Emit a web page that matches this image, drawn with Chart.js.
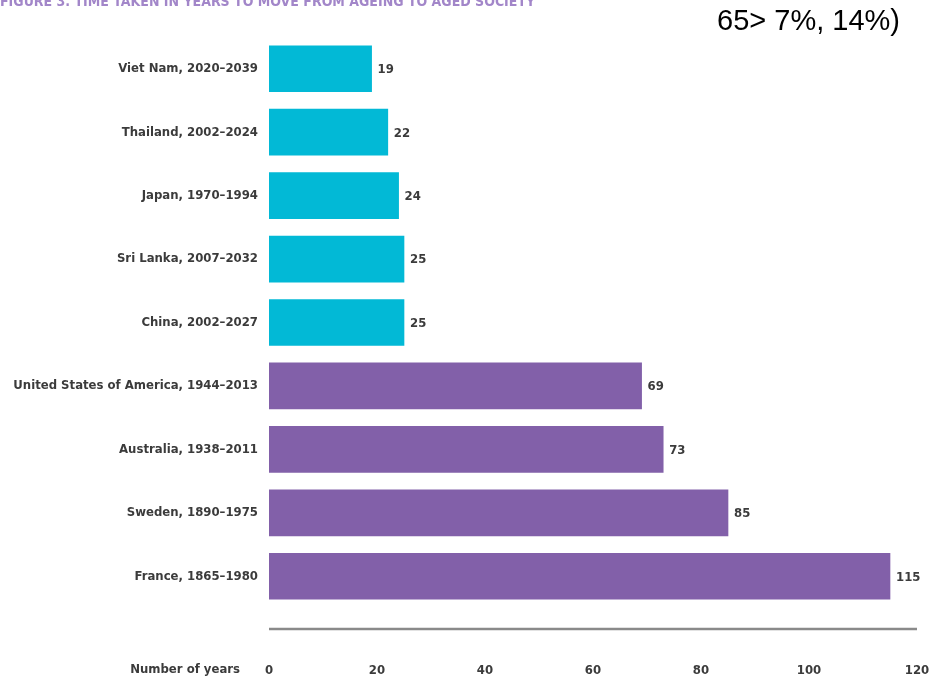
<!DOCTYPE html>
<html>
<head>
<meta charset="utf-8">
<script src="https://cdn.jsdelivr.net/npm/chart.js@4"></script>
<style>
  html, body { margin: 0; padding: 0; background: #fff; overflow: hidden; }
  #wrap { position: relative; width: 931px; height: 679px; }
  #fig { position: absolute; left: 0; top: -7px; font: bold 14px "DejaVu Sans Condensed", sans-serif; color: #a286c9; white-space: nowrap; }
  #note { position: absolute; right: 31px; top: 4px; font: 29px "Liberation Sans", Arial, sans-serif; color: #000; white-space: nowrap; }
</style>
</head>
<body>
<div id="wrap">
  <canvas id="chart" width="931" height="679"></canvas>
  <div id="fig">FIGURE 3. TIME TAKEN IN YEARS TO MOVE FROM AGEING TO AGED SOCIETY</div>
  <div id="note">65&gt; 7%, 14%)</div>
</div>
<script>
const countries = ['Viet Nam, 2020–2039', 'Thailand, 2002–2024', 'Japan, 1970–1994', 'Sri Lanka, 2007–2032', 'China, 2002–2027',
  'United States of America, 1944–2013', 'Australia, 1938–2011', 'Sweden, 1890–1975', 'France, 1865–1980'];
const years = [19, 22, 24, 25, 25, 69, 73, 85, 115];
const xTicks = [0, 20, 40, 60, 80, 100, 120];
const asiaCount = 5; // first five rows are the Asian countries

const CYAN = '#02b9d6';
const PURPLE = '#8260a9';
const TEXT = '#3b3b3b';
const FONT = '"DejaVu Sans Condensed", sans-serif';

// numbers at the end of each bar, axis rule and the "Number of years" caption
const extras = {
  id: 'extras',
  afterDatasetsDraw(chart) {
    const { ctx, scales: { x } } = chart;
    const meta = chart.getDatasetMeta(0);
    ctx.save();
    ctx.font = 'bold 13px ' + FONT;
    ctx.fillStyle = TEXT;
    ctx.textAlign = 'left';
    ctx.textBaseline = 'middle';
    meta.data.forEach((bar, i) => {
      ctx.fillText(String(years[i]), bar.x + 6, bar.y + 1);
    });
    const ruleY = chart.chartArea.bottom + 21;
    ctx.strokeStyle = '#8a8a8a';
    ctx.lineWidth = 2.5;
    ctx.beginPath();
    ctx.moveTo(x.getPixelForValue(0), ruleY);
    ctx.lineTo(x.getPixelForValue(120), ruleY);
    ctx.stroke();
    ctx.textAlign = 'right';
    ctx.fillText('Number of years', 240, chart.chartArea.bottom + 62);
    ctx.restore();
  }
};

new Chart(document.getElementById('chart'), {
  type: 'bar',
  data: {
    labels: countries,
    datasets: [{
      data: years,
      backgroundColor: ctx => ctx.dataIndex < asiaCount ? CYAN : PURPLE,
      barThickness: 46
    }]
  },
  options: {
    indexAxis: 'y',
    responsive: false,
    animation: false,
    layout: { padding: { top: 37, right: 14, bottom: 0, left: 0 } },
    scales: {
      x: {
        min: 0,
        max: 120,
        afterBuildTicks: axis => { axis.ticks = xTicks.map(v => ({ value: v })); },
        afterFit: axis => { axis.height = 71; },
        grid: { display: false, drawTicks: false },
        border: { display: false },
        // tall line height drops the tick labels below the axis rule
        ticks: { padding: 0, color: TEXT, font: { family: FONT, size: 13, weight: 'bold', lineHeight: '125px' } }
      },
      y: {
        afterFit: axis => { axis.width = 269; },
        grid: { display: false, drawTicks: false },
        border: { display: false },
        ticks: { padding: 11, color: TEXT, font: { family: FONT, size: 13, weight: 'bold' } }
      }
    },
    plugins: {
      legend: { display: false },
      tooltip: { enabled: false }
    }
  },
  plugins: [extras]
});
</script>
</body>
</html>
